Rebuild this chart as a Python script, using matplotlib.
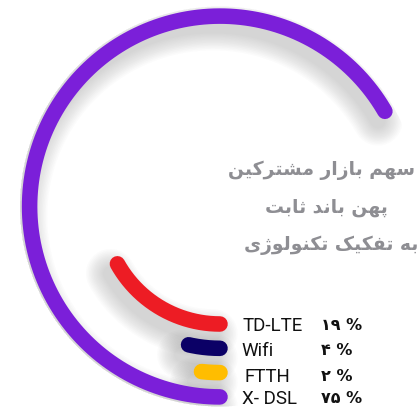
import numpy as np
import matplotlib
matplotlib.use("Agg")
import matplotlib.pyplot as plt
import matplotlib.transforms as mtransforms

# ---- data ----
categories = ["TD-LTE", "Wifi", "FTTH", "X- DSL"]
values = [19, 4, 2, 75]
colors = ["#ED1C24", "#0B0066", "#FFBD00", "#7B1FD9"]
title_lines = ["سهم بازار مشترکین", "پهن باند ثابت", "به تفکیک تکنولوژی"]

W, H = 420, 410
fig = plt.figure(figsize=(W / 100, H / 100), dpi=100)

# polar axes: center at (220, 207.5) px, radius 200 px
cx, cy, R = 220, 207.5, 200
ax = fig.add_axes([(cx - R) / W, (H - cy - R) / H, 2 * R / W, 2 * R / H], projection="polar")
ax.set_theta_zero_location("S")
ax.set_theta_direction(-1)
ax.set_ylim(0, R)
ax.set_axis_off()

deg_per_pct = 3.2
r0, step = 117.5, 24.3
lw = 11.2

def to_pct_str(v):
    return str(v).translate(str.maketrans("0123456789", "۰۱۲۳۴۵۶۷۸۹")) + " %"

# soft shadows
shadow_tr = ax.transData + mtransforms.ScaledTranslation(-5 / 72, -7 / 72, fig.dpi_scale_trans)
for i, v in enumerate(values):
    theta = np.linspace(0, np.deg2rad(v * deg_per_pct), 300)
    r = np.full_like(theta, r0 + i * step)
    for k in range(12):
        ax.plot(theta, r, color="#6a6a6a", alpha=0.022, lw=lw + k * 2.2,
                solid_capstyle="round", transform=shadow_tr, zorder=1)

for i, (v, c) in enumerate(zip(values, colors)):
    theta = np.linspace(0, np.deg2rad(v * deg_per_pct), 300)
    r = np.full_like(theta, r0 + i * step)
    ax.plot(theta, r, color=c, lw=lw, solid_capstyle="round", zorder=3)

# ---- minimal Persian shaping (presentation forms, visual order) ----
FORMS = {
    'ا': ('\uFE8D', '\uFE8E', None, None),
    'ب': ('\uFE8F', '\uFE90', '\uFE91', '\uFE92'),
    'پ': ('\uFB56', '\uFB57', '\uFB58', '\uFB59'),
    'ت': ('\uFE95', '\uFE96', '\uFE97', '\uFE98'),
    'ث': ('\uFE99', '\uFE9A', '\uFE9B', '\uFE9C'),
    'د': ('\uFEA9', '\uFEAA', None, None),
    'ر': ('\uFEAD', '\uFEAE', None, None),
    'ز': ('\uFEAF', '\uFEB0', None, None),
    'ژ': ('\uFB8A', '\uFB8B', None, None),
    'س': ('\uFEB1', '\uFEB2', '\uFEB3', '\uFEB4'),
    'ش': ('\uFEB5', '\uFEB6', '\uFEB7', '\uFEB8'),
    'ف': ('\uFED1', '\uFED2', '\uFED3', '\uFED4'),
    'ک': ('\uFB8E', '\uFB8F', '\uFB90', '\uFB91'),
    'ل': ('\uFEDD', '\uFEDE', '\uFEDF', '\uFEE0'),
    'م': ('\uFEE1', '\uFEE2', '\uFEE3', '\uFEE4'),
    'ن': ('\uFEE5', '\uFEE6', '\uFEE7', '\uFEE8'),
    'ه': ('\uFEE9', '\uFEEA', '\uFEEB', '\uFEEC'),
    'و': ('\uFEED', '\uFEEE', None, None),
    'ی': ('\uFBFC', '\uFBFD', '\uFBFE', '\uFBFF'),
}

def shape(text):
    out = []
    for i, ch in enumerate(text):
        if ch not in FORMS:
            out.append(ch)
            continue
        prev = text[i - 1] if i > 0 else None
        nxt = text[i + 1] if i + 1 < len(text) else None
        cp = prev in FORMS and FORMS[prev][2] is not None
        cn = FORMS[ch][2] is not None and nxt in FORMS
        iso, fin, ini, med = FORMS[ch]
        if cp and cn:
            out.append(med)
        elif cp:
            out.append(fin)
        elif cn:
            out.append(ini)
        else:
            out.append(iso)
    return "".join(reversed(out))

def px(x, y):
    return x / W, 1 - y / H

title_pos = [(415, 170), (388, 208), (418, 245)]
for line, (x, y) in zip(title_lines, title_pos):
    fig.text(*px(x, y), shape(line), ha="right", va="center", fontsize=13.5,
             fontweight="bold", color="#8E8E93", family=["DejaVu Sans"])

leg_y = [326, 351, 377, 399]
leg_x = [243, 241, 244, 242]
for lab, v, x, y in zip(categories, values, leg_x, leg_y):
    fig.text(*px(x, y), lab, ha="left", va="center", fontsize=13.5,
             color="#111111", family=["Roboto"])
    fig.text(*px(321, y), to_pct_str(v), ha="left", va="center", fontsize=11.5,
             fontweight="bold", color="#111111", family=["DejaVu Sans"])

fig.savefig("out.png", dpi=100)
